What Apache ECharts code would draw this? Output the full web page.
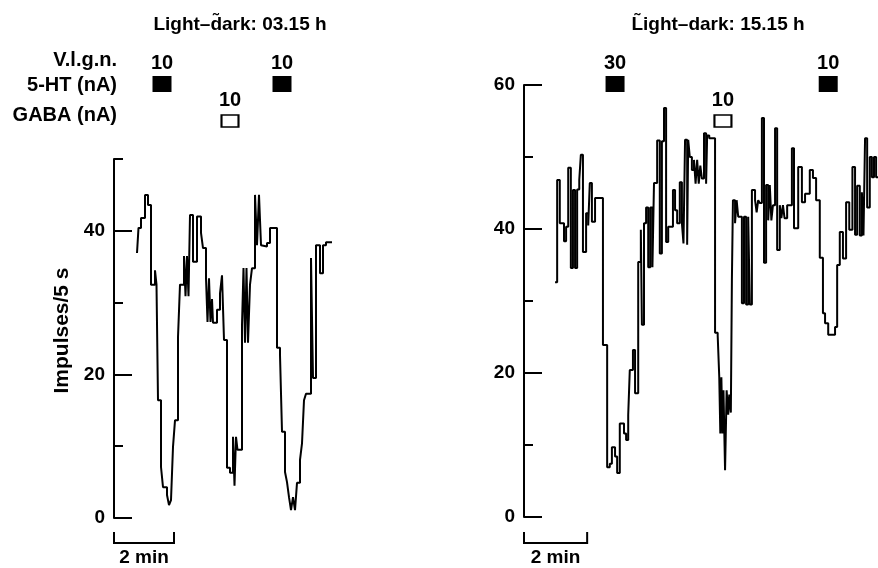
<!DOCTYPE html>
<html>
<head>
<meta charset="utf-8">
<script src="https://cdn.jsdelivr.net/npm/echarts@6/dist/echarts.min.js"></script>
<style>html,body{margin:0;padding:0;background:#fff;}#c{width:878px;height:568px;}</style>
</head>
<body>
<div id="c"></div>
<script>
// ---- data (time in s from start of panel axis, rate in impulses / 5 s) ----
const leftTime = [46,49,54,62,68,74,82,85,88,94,98,106,110,114,118,122,128,132,140,143,146,149,152,158,166,174,178,184,187,190,193,196,198,206,212,216,220,226,232,238,241,244,247,256,259,262,265,268,272,276,282,286,290,294,298,306,312,326,332,336,342,346,350,354,358,362,366,372,376,380,384,394,398,404,412,418,424,436];
const leftRate = [36.9,40.4,41.8,45.0,43.6,32.5,34.5,32.5,16.4,7.1,4.3,3.2,1.8,2.5,9.9,13.6,25.2,32.5,36.5,30.9,36.5,30.9,42.2,35.7,42.0,39.7,37.6,33.4,27.3,33.4,27.3,30.5,27.2,29.0,31.3,33.8,24.8,7.0,6.3,11.3,4.5,11.3,9.5,26.9,34.8,24.4,34.8,24.4,32.5,34.8,45.0,38.0,45.0,38.0,37.8,38.3,40.4,23.7,22.7,12.0,6.4,5.0,2.9,1.1,2.9,1.1,4.9,8.1,10.4,16.4,17.3,36.2,19.5,38.0,34.1,38.0,38.4,38.4];

const rightTime = [59,63,68,76,80,84,89,93,97,101,105,108,112,118,122,125,129,135,150,158,163,167,173,177,182,190,194,198,201,207,211,217,222,224,228,232,236,240,244,247,253,258,262,266,270,274,283,287,291,296,300,303,306,310,312,315,319,323,326,329,332,335,338,342,346,348,352,363,368,371,373,375,377,379,382,385,388,390,393,395,397,401,404,407,414,418,422,426,429,433,439,442,445,448,452,456,460,464,467,470,473,477,481,486,489,492,495,500,509,513,521,528,534,543,549,555,562,568,572,578,591,595,600,606,612,618,624,629,633,638,642,645,648,652,657,661,665,669,673];
const rightRate = [32.6,46.8,40.8,38.3,40.3,48.5,34.6,45.4,34.6,45.5,46.8,50.3,36.8,42.2,40.5,46.4,41.0,44.3,23.9,6.9,7.4,9.7,8.4,6.1,13.0,11.6,10.7,14.2,20.4,23.2,17.2,35.4,39.9,26.7,40.8,43.0,34.7,43.0,34.7,46.4,52.3,36.6,52.2,56.8,38.2,40.3,45.4,42.6,40.8,46.5,40.8,38.0,52.4,37.8,52.4,50.0,48.2,49.6,46.3,49.6,46.3,48.8,47.0,53.3,46.3,53.0,52.6,25.6,25.2,19.4,11.6,19.4,11.6,17.6,6.5,17.6,14.2,17.0,14.5,32.9,44.0,40.8,44.0,41.7,29.7,41.7,29.5,41.7,29.5,45.4,44.0,42.3,44.0,43.6,55.4,35.3,46.1,41.2,46.1,41.2,43.3,54.0,37.1,43.3,41.5,43.3,41.5,43.3,51.2,40.1,48.6,43.7,44.9,48.2,47.1,44.0,36.0,28.3,26.9,25.3,26.4,35.0,39.6,35.9,43.7,39.9,48.6,39.2,46.0,39.1,45.1,39.1,52.6,43.0,50.0,47.2,50.0,47.2,47.2];

// drug applications (time in s, dose in nA)
const leftHTTime = [96, 336];
const leftHTDose = ['10', '10'];
const leftGABATime = [232];
const leftGABADose = ['10'];
const rightHTTime = [173, 578];
const rightHTDose = ['30', '10'];
const rightGABATime = [378];
const rightGABADose = ['10'];

const leftYTicks = [0, 20, 40];
const rightYTicks = [0, 20, 40, 60];
const rowLabels = ['V.l.g.n.', '5-HT (nA)', 'GABA (nA)'];
const titles = ['Light\u2013d\u0303ark: 03.15 h', 'L\u0303ight\u2013dark: 15.15 h'];
const scaleBarSeconds = 120;
const scaleBarLabel = '2 min';
const yName = 'Impulses/5 s';

const FONT = '"Liberation Sans", Arial, sans-serif';
const FW = 'bold';
const zip = (a, b) => a.map((v, i) => [v, b[i]]);
const marks = (t, d, y) => t.map((v, i) => [v, y, d[i]]);

const chart = echarts.init(document.getElementById('c'), null, {renderer: 'canvas'});

function minorY(grid, max) {
  return {
    gridIndex: grid, type: 'value', min: 0, max: max, interval: 10, position: 'left',
    axisLine: {show: true, lineStyle: {color: '#000', width: 2}},
    axisTick: {show: true, inside: true, length: 9, lineStyle: {color: '#000', width: 2}},
    axisLabel: {show: false}, splitLine: {show: false}
  };
}
function majorY(grid, max, ticks, name) {
  return {
    gridIndex: grid, type: 'value', min: 0, max: max, position: 'left',
    name: name || '', nameLocation: 'middle', nameGap: 41, nameRotate: 90,
    nameTextStyle: {fontFamily: FONT, fontWeight: FW, fontSize: 21, color: '#000', padding: [0, 0, 0, 16]},
    axisLine: {show: false},
    axisTick: {show: true, inside: true, length: 18, customValues: ticks, lineStyle: {color: '#000', width: 2}},
    axisLabel: {show: true, customValues: ticks, margin: 9, fontFamily: FONT, fontWeight: FW, fontSize: 19, color: '#000'},
    splitLine: {show: false}
  };
}
function hiddenX(grid, max) {
  return {gridIndex: grid, type: 'value', min: 0, max: max, show: false};
}
function markSeries(xi, yi, data, filled) {
  return {
    type: 'scatter', xAxisIndex: xi, yAxisIndex: yi, clip: false, silent: true,
    symbol: 'rect', symbolSize: filled ? [19, 16] : [17, 12],
    itemStyle: filled ? {color: '#000', opacity: 1} : {color: '#fff', borderColor: '#000', borderWidth: 1.8, opacity: 1},
    label: {show: true, position: 'top', distance: filled ? 3 : 4, formatter: p => p.data[2],
            fontFamily: FONT, fontWeight: FW, fontSize: 20, color: '#000'},
    data: data
  };
}

const LEFT_MAX = 500, RIGHT_MAX = 672.6;

chart.setOption({
  animation: false,
  backgroundColor: '#fff',
  grid: [
    {left: 114, top: 159, width: 250, height: 359},
    {left: 524, top: 85, width: 354, height: 432},
    {left: 114, top: 84, width: 250, height: 37},
    {left: 524, top: 84, width: 354, height: 37}
  ],
  xAxis: [hiddenX(0, LEFT_MAX), hiddenX(1, RIGHT_MAX), hiddenX(2, LEFT_MAX), hiddenX(3, RIGHT_MAX)],
  yAxis: [
    minorY(0, 50), majorY(0, 50, leftYTicks, yName),
    minorY(1, 60), majorY(1, 60, rightYTicks, ''),
    {gridIndex: 2, type: 'value', min: 0, max: 1, show: false},
    {gridIndex: 3, type: 'value', min: 0, max: 1, show: false}
  ],
  series: [
    {type: 'line', xAxisIndex: 0, yAxisIndex: 0, step: 'end', showSymbol: false, silent: true,
     lineStyle: {color: '#000', width: 2}, data: zip(leftTime, leftRate)},
    {type: 'line', xAxisIndex: 1, yAxisIndex: 2, step: 'end', showSymbol: false, silent: true,
     lineStyle: {color: '#000', width: 2}, data: zip(rightTime, rightRate)},
    markSeries(2, 4, marks(leftHTTime, leftHTDose, 1), true),
    markSeries(2, 4, marks(leftGABATime, leftGABADose, 0), false),
    markSeries(3, 5, marks(rightHTTime, rightHTDose, 1), true),
    markSeries(3, 5, marks(rightGABATime, rightGABADose, 0), false)
  ]
});

// annotations: titles, row labels and the "2 min" scale bars (placed via the x scales)
const g = [];
const txt = (text, x, y, align, size) => ({type: 'text', silent: true, style: {
  text: text, x: x, y: y, textAlign: align || 'center', textVerticalAlign: 'middle',
  fontFamily: FONT, fontWeight: FW, fontSize: size || 19, fill: '#000'}});
g.push(txt(titles[0], 240, 25));
g.push(txt(titles[1], 718, 25));
g.push(txt(rowLabels[0], 117, 60, 'right', 20));
g.push(txt(rowLabels[1], 117, 85, 'right', 20));
g.push(txt(rowLabels[2], 117, 115, 'right', 20));
[0, 1].forEach(ax => {
  const x0 = chart.convertToPixel({xAxisIndex: ax}, 0);
  const x1 = chart.convertToPixel({xAxisIndex: ax}, scaleBarSeconds);
  g.push({type: 'polyline', silent: true, shape: {points: [[x0, 532], [x0, 543], [x1, 543], [x1, 532]]},
          style: {stroke: '#000', lineWidth: 2, fill: null}});
  g.push(txt(scaleBarLabel, (x0 + x1) / 2, 558, 'center', 19));
});
chart.setOption({graphic: {elements: g}});
</script>
</body>
</html>
